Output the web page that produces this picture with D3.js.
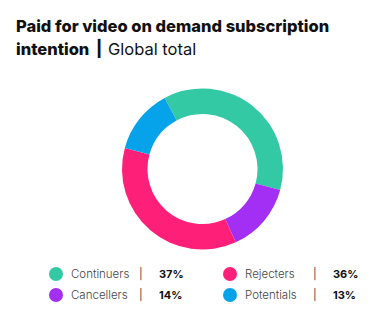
<!DOCTYPE html>
<html>
<head>
<meta charset="utf-8">
<script src="https://cdn.jsdelivr.net/npm/d3@7"></script>
<style>
  body { margin: 0; background: #fff; }
  svg { display: block; font-family: Inter, "Open Sans", sans-serif; }
</style>
</head>
<body>
<svg id="chart" width="391" height="323"></svg>
<script>
const categories = ['Continuers', 'Cancellers', 'Rejecters', 'Potentials'];
const values = [37, 14, 36, 13];
const colors = ['#33c9a5', '#a22ff3', '#fe1f79', '#07a3ea'];
// legend layout order (row by row)
const legendOrder = ['Continuers', 'Rejecters', 'Cancellers', 'Potentials'];

const svg = d3.select('#chart');

svg.append('text').attr('x', 16).attr('y', 32)
    .style('font-size', '16.5px').style('font-weight', 800).attr('fill', '#111')
    .text('Paid for video on demand subscription');
svg.append('text').attr('x', 16).attr('y', 55)
    .style('font-size', '16.5px').style('font-weight', 800).attr('fill', '#111')
    .text('intention');
svg.append('text').attr('x', 96).attr('y', 54)
    .style('font-size', '16px').style('font-weight', 800).attr('fill', '#111')
    .text('|');
svg.append('text').attr('x', 108).attr('y', 55)
    .style('font-size', '16.5px').style('font-weight', 400).attr('fill', '#111')
    .text('Global total');

const color = d3.scaleOrdinal().domain(categories).range(colors);

const pie = d3.pie().sort(null).value(d => d.v)
    .startAngle(-28 * Math.PI / 180).endAngle(2 * Math.PI - 28 * Math.PI / 180);
const arc = d3.arc().innerRadius(55).outerRadius(80.5);
const data = categories.map((c, i) => ({ c, v: values[i] }));

const g = svg.append('g').attr('transform', 'translate(202.5,169)');
g.selectAll('path').data(pie(data)).enter().append('path')
    .attr('d', arc).attr('fill', d => color(d.data.c));

const lx = d3.scaleOrdinal().domain([0, 1]).range([56, 230]);
const ly = d3.scaleOrdinal().domain([0, 1]).range([274, 295]);

const items = svg.selectAll('.leg').data(legendOrder).enter().append('g')
    .attr('transform', (d, i) => `translate(${lx(i % 2)},${ly(Math.floor(i / 2))})`);
items.append('circle').attr('r', 7).attr('fill', d => color(d));
items.append('text').attr('x', 15).attr('y', 4).style('font-size', '11.5px')
    .style('font-weight', 300).attr('fill', '#444').text(d => d);
items.append('text').attr('x', 83).attr('y', 4).style('font-size', '11px')
    .attr('fill', '#444').text('|');
items.append('text').attr('x', 103).attr('y', 4).style('font-size', '11px')
    .style('font-weight', 700).attr('fill', '#111')
    .text(d => values[categories.indexOf(d)] + '%');
</script>
</body>
</html>
